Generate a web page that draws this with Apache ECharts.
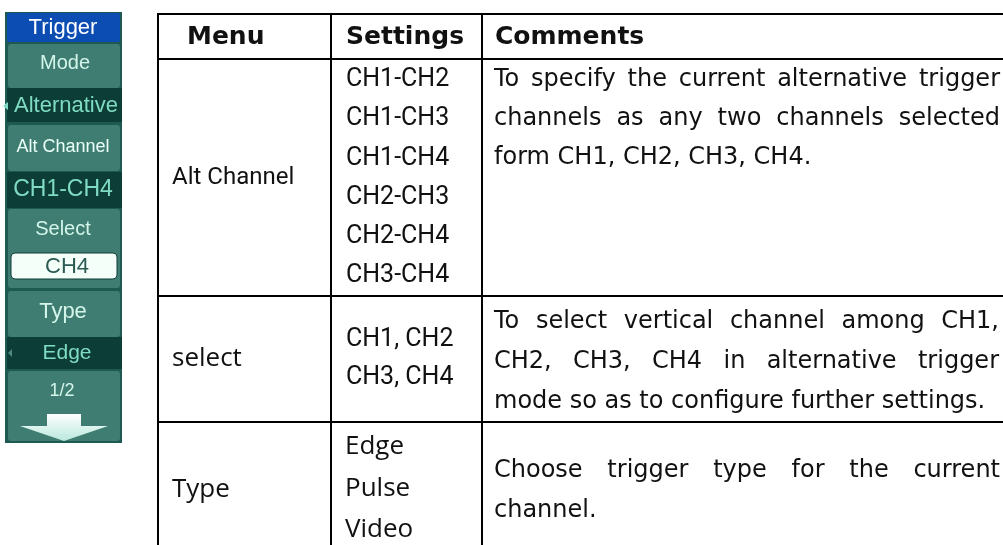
<!DOCTYPE html>
<html><head><meta charset="utf-8">
<script src="https://cdn.jsdelivr.net/npm/echarts@6/dist/echarts.min.js"></script>
<style>html,body{margin:0;padding:0;background:#fff}#c{width:1003px;height:545px}</style>
</head><body><div id="c"></div>
<script>
// ---- data ----
var headers = ['Menu', 'Settings', 'Comments'];
var menuNames = ['Alt Channel', 'select', 'Type'];
var settingsAlt = ['CH1-CH2', 'CH1-CH3', 'CH1-CH4', 'CH2-CH3', 'CH2-CH4', 'CH3-CH4'];
var settingsSelect = ['CH1, CH2', 'CH3, CH4'];
var settingsType = ['Edge', 'Pulse', 'Video'];
var commentsAlt = ['To specify the current alternative trigger', 'channels as any two channels selected', 'form CH1, CH2, CH3, CH4.'];
var commentsSelect = ['To select vertical channel among CH1,', 'CH2, CH3, CH4 in alternative trigger', 'mode so as to configure further settings.'];
var commentsType = ['Choose trigger type for the current', 'channel.'];
var panelTitle = 'Trigger';
var panelLabels = ['Mode', 'Alt Channel', 'Select', 'Type'];
var panelValues = ['Alternative', 'CH1-CH4', 'CH4', 'Edge'];
var panelPage = '1/2';

// ---- layout ----
var chart = echarts.init(document.getElementById('c'));
var g = [];
var meas = document.createElement('canvas').getContext('2d');
function txt(t, x, y, font, fill, align) {
  g.push({type: 'text', style: {text: t, x: x, y: y, font: font, fill: fill || '#111',
    textAlign: align || 'left', textVerticalAlign: 'middle', align: align || 'left', verticalAlign: 'middle'}});
}
function line(x1, y1, x2, y2) {
  g.push({type: 'line', shape: {x1: x1, y1: y1, x2: x2, y2: y2}, style: {stroke: '#000', lineWidth: 2}});
}
function rect(x, y, w, h, fill, r, stroke) {
  g.push({type: 'rect', shape: {x: x, y: y, width: w, height: h, r: r || 0},
    style: {fill: fill, stroke: stroke || null, lineWidth: stroke ? 1 : 0}});
}
var bodyFont = '24px "DejaVu Sans"';
function justified(lines, x0, x1, y0, dy) {
  meas.font = bodyFont;
  lines.forEach(function (ln, i) {
    var y = y0 + i * dy;
    var words = ln.split(' ');
    var last = i === lines.length - 1;
    if (last || words.length < 2) { txt(ln, x0, y, bodyFont); return; }
    var ws = words.map(function (w) { return meas.measureText(w).width; });
    var sum = ws.reduce(function (a, b) { return a + b; }, 0);
    var gap = (x1 - x0 - sum) / (words.length - 1);
    var x = x0;
    words.forEach(function (w, k) { txt(w, x, y, bodyFont); x += ws[k] + gap; });
  });
}

// table grid
var L = 158, C1 = 331, C2 = 482, R = 1003;
line(L, 14, R, 14); line(L, 59, R, 59); line(L, 296, R, 296); line(L, 422, R, 422);
line(L, 13, L, 545); line(C1, 13, C1, 545); line(C2, 13, C2, 545);

var hFont = 'bold 25px "DejaVu Sans"';
txt(headers[0], 187, 37, hFont);
txt(headers[1], 346, 37, hFont);
txt(headers[2], 495, 37, hFont);

var mFont = '26px "Open Sans"';
txt(menuNames[0], 172, 178, '24px Roboto');
txt(menuNames[1], 172, 359, mFont);
txt(menuNames[2], 172, 490, mFont);

settingsAlt.forEach(function (s, i) { txt(s, 346, 80 + i * 39.2, '25px Roboto'); });
settingsSelect.forEach(function (s, i) { txt(s, 346, 340 + i * 38, '25px Roboto'); });
settingsType.forEach(function (s, i) { txt(s, 345, 447 + i * 41.5, mFont); });

justified(commentsAlt, 494, 1000, 80, 39);
justified(commentsSelect, 494, 999, 322, 40);
justified(commentsType, 494, 1000, 471, 40);

// oscilloscope menu panel
var teal = '#3f7d72', dark = '#0d3d37', lt = '#d4f5ea', val = '#7fdcc3';
var pf = '"Liberation Sans"';
rect(5, 12, 117, 431, '#1e5a52');
rect(7, 13, 113, 29, '#0c4db4', 2);
txt(panelTitle, 63, 28, '22px ' + pf, '#ffffff', 'center');
rect(8, 44, 112, 44, teal, 3);
txt(panelLabels[0], 65, 63, '20px ' + pf, lt, 'center');
rect(7, 88, 115, 34, dark);
txt(panelValues[0], 66, 106, '22px ' + pf, val, 'center');
g.push({type: 'polygon', shape: {points: [[3, 106], [8, 102], [8, 110]]}, style: {fill: val}});
rect(8, 125, 112, 46, teal, 3);
txt(panelLabels[1], 63, 147, '18px ' + pf, '#eafff8', 'center');
rect(7, 172, 115, 36, dark);
txt(panelValues[1], 63, 190, '23px ' + pf, val, 'center');
rect(8, 209, 112, 79, teal, 3);
txt(panelLabels[2], 63, 229, '20px ' + pf, lt, 'center');
rect(11, 253, 106, 26, '#f4fff9', 4, '#0d3d37');
txt(panelValues[2], 67, 267, '22px ' + pf, '#2a5a52', 'center');
rect(8, 291, 112, 46, teal, 3);
txt(panelLabels[3], 63, 312, '22px ' + pf, lt, 'center');
rect(7, 337, 115, 32, dark);
txt(panelValues[3], 67, 353, '21px ' + pf, val, 'center');
g.push({type: 'polygon', shape: {points: [[8, 353], [12, 349], [12, 357]]}, style: {fill: '#4c8a80'}});
rect(8, 371, 112, 70, teal, 3);
txt(panelPage, 62, 391, '18px ' + pf, lt, 'center');
g.push({type: 'polygon', shape: {points: [[47, 414], [81, 414], [81, 426], [108, 426], [64, 441], [20, 426], [47, 426]]},
  style: {fill: new echarts.graphic.LinearGradient(0, 0, 0, 1, [{offset: 0, color: '#ffffff'}, {offset: 1, color: '#b8e8dc'}])}});

chart.setOption({animation: false, graphic: {elements: g}});
</script></body></html>
